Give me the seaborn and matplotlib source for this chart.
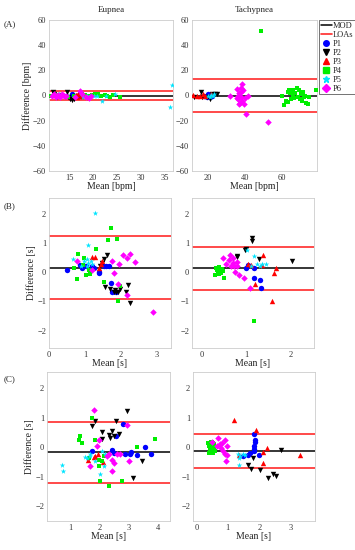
import numpy as np
import pandas as pd
import matplotlib
matplotlib.use("Agg")
import matplotlib.pyplot as plt
from matplotlib.lines import Line2D
import seaborn as sns

# ---------------- data ----------------
# (A) breathing rate, eupnea
a_eup_p1 = [(13.5, 0.5), (14.2, -0.5), (15.5, 1), (16.8, 0), (17.5, -0.5)]
a_eup_p2 = [(11.5, 3), (11.8, 1.5), (12.3, -1), (13, 0.5), (14.5, 3), (14.8, -1),
            (15.1, -3), (15.5, -3.5), (15.9, -2.5), (16.2, -0.5)]
a_eup_p3 = [(16.4, 0.5), (16.8, 1.5), (17.1, 2.5), (17.4, 0), (16.6, -1)]
a_eup_p4 = [(11, 0), (11.6, -0.5), (12.5, 0.5), (13.2, -0.5), (14.7, -1), (16, 0),
            (17.6, 1), (18.3, 0.5), (19, -0.5), (19.7, 0.5), (20.3, 1), (21, 1),
            (21.6, 0), (22.4, 0.5), (23, -0.5), (23.6, -1), (24.2, 0.5), (25.7, -1)]
a_eup_p5 = [(12.8, 1), (17.8, -1), (18.6, 0), (19.4, -0.5), (20.2, 0), (20.8, -0.5),
            (21.9, -4), (22.8, 0), (24.5, 1), (36.5, 8), (36.1, -9.5)]
a_eup_p6 = [(11.3, 0), (11.8, 1), (12.2, -1), (12.6, 0.5), (13, -1.5), (13.4, 1.5),
            (13.9, -0.5), (14.3, 0), (16.2, -1.5), (17.2, 3.5), (17.6, 1), (18.4, -1.5),
            (19.1, -2), (19.6, -0.5)]

# (A) breathing rate, tachypnea
a_tac_p1 = [(18, 0), (19.5, -1), (20.5, 1), (21.5, -1.5), (22.5, -0.5)]
a_tac_p2 = [(13, -1), (16.5, 3), (17, -1.5), (19.5, -1), (21.5, -3), (22.5, 1), (24, 1), (25, 1)]
a_tac_p3 = [(12, 0.5), (14.5, 0), (16, -0.5), (17.5, 1), (18.5, 0), (22, 1)]
a_tac_p4 = [(49, 51.5), (60, 0), (61, -7.5), (62, -4), (63, -5), (63.5, 3), (64, 4),
            (64.5, 2), (65, -3), (65.5, 3), (66, 0), (66, 4), (66.5, -2), (67, 2),
            (68, 6), (68.5, -1), (69, 4), (69.5, -3), (70, 1), (70.5, -4), (71, 2),
            (71.5, 3), (72, -1), (72.5, 0), (73, -6), (74, -7), (74.5, -1), (78, 4)]
a_tac_p5 = [(20.5, 0), (21.5, -1), (22, 0.5), (22.8, -0.5), (23.5, 1)]
a_tac_p6 = [(32, 0), (36, 5), (36, -2), (36.5, -3), (36.5, 0), (37, 2), (37, -7),
            (37.5, -6), (38, 3), (38, 6), (38, -1), (38.5, 9), (38.8, -4), (39, 4),
            (39.5, -7), (40, -2), (40.5, -14.5), (42, 0), (52.5, -21)]

# (B) eupnea
b_eup_p1 = [(0.49, 0.08), (0.86, 0.25), (0.93, 0.14), (1.03, 0.2), (1.21, 0.2),
            (1.26, 0.14), (1.4, 0.02), (1.4, -0.03), (1.52, 0.2), (1.59, 0.2),
            (1.66, 0.22), (1.73, -0.38), (1.76, -0.69), (1.87, -0.67)]
b_eup_p2 = [(1.42, 0.23), (1.49, 0.31), (1.54, 0.46), (1.63, 0.6), (1.57, -0.49),
            (1.7, -0.57), (1.8, -0.67), (1.84, -0.61), (1.87, -0.69), (1.91, -0.67),
            (1.98, -0.57), (2.15, -0.69), (2.21, -0.44), (2.26, -1.05)]
b_eup_p3 = [(1.2, 0.54), (1.29, 0.51), (1.38, 0.16), (1.45, 0.28), (1.49, 0.37)]
b_eup_p4 = [(1.73, 1.52), (1.64, 1.11), (1.9, 1.14), (1.31, 0.79), (0.82, 0.63),
            (0.98, 0.5), (0.7, 0.16), (0.96, 0.25), (1.12, 0.08), (0.77, -0.23),
            (1.03, -0.11), (1.14, -0.06), (1.54, -0.32), (1.99, -0.47), (1.91, -0.98)]
b_eup_p5 = [(1.29, 2.03), (1.1, 0.94), (0.67, 0.45), (0.98, 0.37), (1.05, 0.46),
            (1.1, 0.31), (1.17, 0.39), (1.21, 0.28), (0.89, 0.23), (1.07, 0.2)]
b_eup_p6 = [(0.79, 0.37), (1.2, 0.08), (1.76, 0.37), (1.96, 0.28), (2.05, 0.6),
            (2.18, 0.48), (2.27, 0.62), (2.41, 0.34), (1.8, -0.03), (1.91, -0.41),
            (2.17, -0.78), (2.89, -1.36)]

# (B) tachypnea
b_tac_p1 = [(1.0, 0.16), (1.05, 0.25), (1.18, 0.16), (1.18, -0.18), (1.31, -0.28), (1.33, -0.53)]
b_tac_p2 = [(1.13, 1.17), (1.13, 1.06), (0.97, 0.77), (1.01, 0.8), (0.8, 0.51),
            (0.79, 0.57), (1.3, 0.46), (2.04, 0.4)]
b_tac_p3 = [(1.39, 0.6), (1.67, 0.14), (1.63, -0.01), (1.37, 0.25), (1.05, 0.28),
            (1.12, 0.25), (1.2, -0.41), (1.59, -0.99)]
b_tac_p4 = [(0.3, -0.11), (0.34, 0.16), (0.37, 0.02), (0.41, 0.11), (0.45, -0.03),
            (0.49, 0.06), (0.51, -0.18), (0.39, -0.06), (0.36, 0.08), (0.43, 0.04),
            (0.47, 0.12), (0.4, 0.18), (1.18, -1.67)]
b_tac_p5 = [(1.03, 0.77), (1.18, 0.56), (1.24, 0.28), (1.31, 0.23), (1.37, 0.28),
            (1.46, 0.28), (1.12, 0.2)]
b_tac_p6 = [(0.49, 0.48), (0.64, 0.6), (0.62, 0.43), (0.56, 0.28), (0.67, 0.2),
            (0.7, 0.31), (0.71, 0.48), (0.73, 0.2), (0.79, 0.34), (0.8, 0.22),
            (0.75, 0.02), (0.84, -0.11), (0.95, -0.18), (1.1, -0.53)]

# (C) eupnea
c_eup_p1 = [(2.8, 0.79), (2.56, 0.37), (1.75, -0.14), (2.43, -0.11), (2.49, -0.19),
            (2.86, -0.23), (3.03, -0.23), (3.07, -0.17), (3.26, -0.25), (3.54, 0.01),
            (3.76, -0.23)]
c_eup_p2 = [(2.94, 1.22), (1.85, 0.88), (2.56, 0.88), (1.73, 0.71), (2.43, 0.54),
            (2.31, 0.43), (2.09, 0.52), (2.09, 0.29), (2.35, 0.32), (2.49, 0.37),
            (2.66, 0.45), (3.45, -0.45), (3.14, -1.04)]
c_eup_p3 = [(1.6, -0.42), (1.8, -0.34), (1.86, -0.3), (1.94, -0.23), (2.12, -0.5)]
c_eup_p4 = [(1.75, 0.99), (1.32, 0.39), (1.29, 0.23), (1.41, 0.15), (1.84, 0.23),
            (2.03, -1.15), (2.32, -1.3), (2.77, -1.13), (3.26, 0.01), (3.88, 0.28),
            (1.63, -0.36), (1.97, -0.64), (2.15, -0.3), (2.09, -0.45), (1.97, -0.42)]
c_eup_p5 = [(0.73, -0.61), (0.76, -0.79), (1.49, -0.34), (1.56, -0.38), (1.67, -0.3),
            (1.69, -0.23), (1.86, -0.45), (2.03, -0.92), (2.15, -0.64), (2.09, -0.14),
            (2.2, -0.23)]
c_eup_p6 = [(1.8, 1.25), (2.92, 0.74), (1.9, 0.03), (1.98, 0.23), (1.69, -0.62),
            (2.43, -0.79), (2.49, -0.53), (2.99, -0.45), (2.6, -0.23), (2.69, -0.23),
            (2.32, -0.23), (2.24, -0.3), (2.41, -0.42)]

# (C) tachypnea
c_tac_p1 = [(1.83, 0.45), (1.86, 0.26), (1.88, 0.18), (1.84, 0.03), (1.84, -0.06),
            (1.84, -0.14), (2.0, -0.25), (1.7, -0.21), (1.65, -0.25), (1.49, -0.3)]
c_tac_p2 = [(2.68, -0.08), (1.81, -0.36), (1.65, -0.59), (1.73, -0.73), (2.02, -0.78),
            (2.29, -1.04), (2.43, -0.92), (2.53, -0.98)]
c_tac_p3 = [(1.19, 0.91), (1.91, 0.57), (2.26, -0.01), (2.11, -0.16), (1.36, -0.27),
            (2.11, -0.55), (3.3, -0.27)]
c_tac_p4 = [(0.38, 0.15), (0.4, 0.05), (0.42, -0.05), (0.44, -0.15), (0.46, 0.1),
            (0.48, 0.0), (0.5, -0.1), (0.52, 0.15), (0.54, 0.05), (0.56, -0.05),
            (0.58, -0.12), (0.45, 0.18), (0.5, 0.17), (0.55, 0.12), (0.4, -0.18),
            (0.47, -0.2), (0.53, -0.18)]
c_tac_p5 = [(1.33, -0.23), (1.38, -0.3), (1.47, -0.23), (1.54, -0.25), (1.36, -0.59), (1.35, -0.36)]
c_tac_p6 = [(0.48, 0.18), (0.69, 0.32), (0.83, 0.15), (0.9, 0.23), (0.96, 0.03),
            (0.77, -0.02), (0.85, -0.14), (0.9, -0.23), (0.98, -0.27), (0.94, -0.47),
            (0.64, 0.03), (0.74, 0.11)]

# mean of differences and limits of agreement per panel (lower, mod, upper)
a_eup_lines = (-3.5, 0.0, 3.5)
a_tac_lines = (-13.5, 0.0, 13.5)
b_eup_lines = (-0.93, 0.15, 1.24)
b_tac_lines = (-0.6, 0.13, 0.86)
c_eup_lines = (-1.2, -0.17, 0.87)
c_tac_lines = (-0.72, -0.14, 0.45)

participants = ["P1", "P2", "P3", "P4", "P5", "P6"]

# ---------------- styling ----------------
sns.set_style("white")
plt.rcParams["font.family"] = ["Liberation Serif", "DejaVu Serif"]

palette = {"P1": "#0000ff", "P2": "#000000", "P3": "#ff0000",
           "P4": "#00ee00", "P5": "#00e5ff", "P6": "#ff00ff"}
markers = {"P1": "o", "P2": "v", "P3": "^", "P4": "s", "P5": "*", "P6": "D"}
sizes = {"P1": 15, "P2": 15, "P3": 15, "P4": 10, "P5": 17, "P6": 11}


def make_df(groups):
    rows = []
    for name, pts in zip(participants, groups):
        for x, y in pts:
            rows.append({"mean": x, "diff": y, "participant": name})
    return pd.DataFrame(rows)


def fmt(v):
    return f"{v:g}" if v >= 0 else "\u2212" + f"{-v:g}"


W, H = 355, 550
fig = plt.figure(figsize=(W / 100, H / 100), dpi=100)


def add_ax(l, r, t, b):
    return fig.add_axes([l / W, 1 - b / H, (r - l) / W, (b - t) / H])


panels = [
    (add_ax(49, 173, 20, 171), [a_eup_p1, a_eup_p2, a_eup_p3, a_eup_p4, a_eup_p5, a_eup_p6],
     a_eup_lines, (10.7, 36.8), (-60, 60), [15, 20, 25, 30, 35], np.arange(-60, 61, 20),
     "Mean [bpm]", "Difference [bpm]"),
    (add_ax(192, 317, 20, 171), [a_tac_p1, a_tac_p2, a_tac_p3, a_tac_p4, a_tac_p5, a_tac_p6],
     a_tac_lines, (11.7, 78.8), (-60, 60), [20, 40, 60], np.arange(-60, 61, 20),
     "Mean [bpm]", None),
    (add_ax(49, 171, 198, 348), [b_eup_p1, b_eup_p2, b_eup_p3, b_eup_p4, b_eup_p5, b_eup_p6],
     b_eup_lines, (0, 3.4), (-2.6, 2.55), [0, 1, 2, 3], [-2, -1, 0, 1, 2],
     "Mean [s]", "Difference [s]"),
    (add_ax(192, 314, 198, 348), [b_tac_p1, b_tac_p2, b_tac_p3, b_tac_p4, b_tac_p5, b_tac_p6],
     b_tac_lines, (-0.21, 2.53), (-2.6, 2.55), [0, 1, 2], [-2, -1, 0, 1, 2],
     "Mean [s]", None),
    (add_ax(47, 170, 372, 521), [c_eup_p1, c_eup_p2, c_eup_p3, c_eup_p4, c_eup_p5, c_eup_p6],
     c_eup_lines, (0.21, 4.4), (-2.5, 2.55), [1, 2, 3, 4], [-2, -1, 0, 1, 2],
     "Mean [s]", "Difference [s]"),
    (add_ax(193, 315, 372, 521), [c_tac_p1, c_tac_p2, c_tac_p3, c_tac_p4, c_tac_p5, c_tac_p6],
     c_tac_lines, (-0.11, 3.78), (-2.5, 2.55), [0, 1, 2, 3], [-2, -1, 0, 1, 2],
     "Mean [s]", None),
]

for ax, groups, lines, xlim, ylim, xt, yt, xlab, ylab in panels:
    lo, mod, hi = lines
    ax.axhline(mod, color="black", lw=1.1, zorder=1)
    ax.axhline(lo, color="#ff2a2a", lw=1.2, zorder=1)
    ax.axhline(hi, color="#ff2a2a", lw=1.2, zorder=1)
    df = make_df(groups)
    for p in participants:
        sub = df[df["participant"] == p]
        sns.scatterplot(data=sub, x="mean", y="diff", ax=ax, color=palette[p],
                        marker=markers[p], s=sizes[p], linewidth=0, legend=False, zorder=3)
    ax.set_xlim(*xlim)
    ax.set_ylim(*ylim)
    ax.set_xticks(xt)
    ax.set_yticks(yt)
    ax.set_xticklabels([fmt(v) for v in xt])
    ax.set_yticklabels([fmt(v) for v in yt])
    ax.tick_params(direction="in", length=2.5, width=0.5, colors="#bbbbbb",
                   labelcolor="#333333", labelsize=6, pad=2)
    for s in ax.spines.values():
        s.set_color("#cccccc")
        s.set_linewidth(0.6)
    ax.set_xlabel(xlab, fontsize=7, labelpad=0.5, color="#222222")
    ax.set_ylabel(ylab if ylab else "", fontsize=7, labelpad=1, color="#222222")

fig.text(111 / W, 1 - 10 / H, "Eupnea", ha="center", va="center", fontsize=6.5)
fig.text(254 / W, 1 - 10 / H, "Tachypnea", ha="center", va="center", fontsize=6.5)
fig.text(10 / W, 1 - 24 / H, "(A)", ha="center", va="center", fontsize=6.5)
fig.text(10 / W, 1 - 206 / H, "(B)", ha="center", va="center", fontsize=6.5)
fig.text(10 / W, 1 - 379 / H, "(C)", ha="center", va="center", fontsize=6.5)

handles = [Line2D([], [], color="black", lw=1.1, label="MOD"),
           Line2D([], [], color="#ff2a2a", lw=1.2, label="LOAs")]
for p in participants:
    handles.append(Line2D([], [], ls="", marker=markers[p], color=palette[p],
                          markersize=4 if markers[p] != "*" else 5, label=p))
leg = fig.legend(handles=handles, loc="upper left", bbox_to_anchor=(319 / W, 1 - 20 / H),
                 fontsize=6, frameon=True, fancybox=False, borderpad=0.2,
                 handlelength=1.3, handletextpad=0.2, labelspacing=0.12, borderaxespad=0)
leg.get_frame().set_edgecolor("#333333")
leg.get_frame().set_linewidth(0.6)

fig.savefig("out.png", dpi=100)
